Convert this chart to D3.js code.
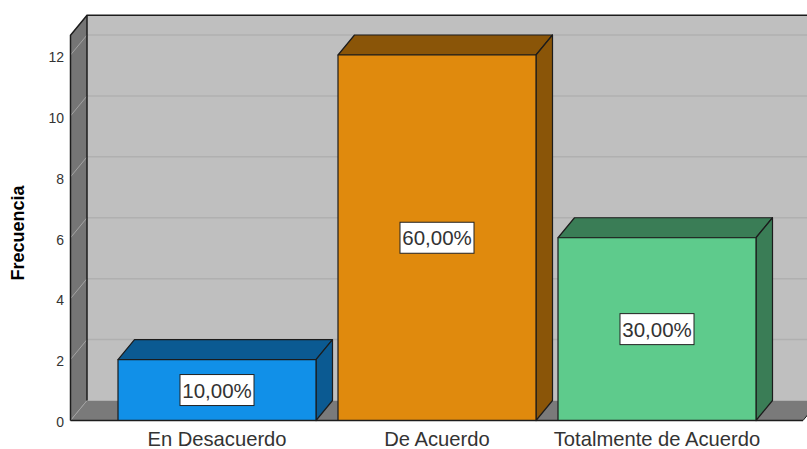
<!DOCTYPE html>
<html>
<head>
<meta charset="utf-8">
<script src="https://cdnjs.cloudflare.com/ajax/libs/d3/7.8.5/d3.min.js"></script>
<style>
    html, body { margin: 0; padding: 0; background: #fff; overflow: hidden; }
    svg { display: block; }
    text { font-family: "Liberation Sans", Arial, sans-serif; }
</style>
</head>
<body>
<div id="chart"></div>
<script>
const categories = ["En Desacuerdo", "De Acuerdo", "Totalmente de Acuerdo"];
const frequencies = [2, 12, 6];
const percentLabels = ["10,00%", "60,00%", "30,00%"];
const yTicks = [0, 2, 4, 6, 8, 10, 12];
const yMaxValue = 12.65;
const frontColors = ["#1190e8", "#e08a0d", "#5ecb8c"];
const darkColors = ["#0b5a92", "#8a5508", "#3a7d56"];

const width = 807, height = 449;
// depth of the fake 3d box
const dx = 16.5, dy = -20;
const plotLeft = 70.5, plotRight = 803, plotBottom = 420.5;

const svg = d3.select("#chart").append("svg")
    .attr("width", width)
    .attr("height", height);

const x = d3.scaleBand()
    .domain(categories)
    .range([107, 767])
    .paddingInner(0.1)
    .paddingOuter(0.05);

const y = d3.scaleLinear()
    .domain([0, 12])
    .range([plotBottom, 55]);

const plotTop = y(yMaxValue);
const outline = "#1c1c1c";

function pts(list) {
    return list.map(p => p.join(",")).join(" ");
}

// back wall
svg.append("rect")
    .attr("x", plotLeft + dx)
    .attr("y", plotTop + dy)
    .attr("width", width - plotLeft - dx + 2)
    .attr("height", plotBottom - plotTop)
    .attr("fill", "#bfbfbf");

// side wall
svg.append("polygon")
    .attr("points", pts([[plotLeft, plotTop], [plotLeft + dx, plotTop + dy], [plotLeft + dx, plotBottom + dy], [plotLeft, plotBottom]]))
    .attr("fill", "#757575");

// floor
svg.append("polygon")
    .attr("points", pts([[plotLeft, plotBottom], [plotLeft + dx, plotBottom + dy], [plotRight + dx, plotBottom + dy], [plotRight, plotBottom]]))
    .attr("fill", "#7a7a7a");

// gridlines on back wall and side wall
yTicks.filter(d => d > 0).forEach(d => {
    svg.append("line")
        .attr("x1", plotLeft + dx).attr("x2", width)
        .attr("y1", y(d) + dy).attr("y2", y(d) + dy)
        .attr("stroke", "#b0b0b0")
        .attr("stroke-width", 1.5);
    svg.append("line")
        .attr("x1", plotLeft).attr("x2", plotLeft + dx)
        .attr("y1", y(d)).attr("y2", y(d) + dy)
        .attr("stroke", "#a3a3a3")
        .attr("stroke-width", 1);
});
svg.append("line")
    .attr("x1", plotLeft).attr("x2", plotLeft + dx)
    .attr("y1", plotBottom).attr("y2", plotBottom + dy)
    .attr("stroke", "#a3a3a3");
svg.append("line")
    .attr("x1", plotLeft + dx).attr("x2", width)
    .attr("y1", plotBottom + dy).attr("y2", plotBottom + dy)
    .attr("stroke", "#b0b0b0");

// wall outlines
svg.append("polyline")
    .attr("points", pts([[plotLeft, plotBottom], [plotLeft, plotTop], [plotLeft + dx, plotTop + dy], [width, plotTop + dy]]))
    .attr("fill", "none")
    .attr("stroke", outline)
    .attr("stroke-width", 1.5);
svg.append("line")
    .attr("x1", plotLeft + dx).attr("x2", plotLeft + dx)
    .attr("y1", plotTop + dy).attr("y2", plotBottom + dy)
    .attr("stroke", outline)
    .attr("stroke-width", 1.5);

// bars
categories.forEach((c, i) => {
    let x0 = x(c), x1 = x(c) + x.bandwidth(), yT = y(frequencies[i]);
    let g = svg.append("g")
        .attr("stroke", outline)
        .attr("stroke-width", 1.2)
        .attr("stroke-linejoin", "round");
    g.append("polygon")
        .attr("points", pts([[x0, yT], [x0 + dx, yT + dy], [x1 + dx, yT + dy], [x1, yT]]))
        .attr("fill", darkColors[i]);
    g.append("polygon")
        .attr("points", pts([[x1, yT], [x1 + dx, yT + dy], [x1 + dx, plotBottom + dy], [x1, plotBottom]]))
        .attr("fill", darkColors[i]);
    g.append("rect")
        .attr("x", x0)
        .attr("y", yT)
        .attr("width", x.bandwidth())
        .attr("height", plotBottom - yT)
        .attr("fill", frontColors[i]);
});

// baseline
svg.append("line")
    .attr("x1", plotLeft).attr("x2", plotRight)
    .attr("y1", plotBottom).attr("y2", plotBottom)
    .attr("stroke", outline)
    .attr("stroke-width", 1.5);
svg.append("line")
    .attr("x1", plotRight).attr("x2", plotRight + dx)
    .attr("y1", plotBottom).attr("y2", plotBottom + dy)
    .attr("stroke", outline)
    .attr("stroke-width", 1);

// value labels
categories.forEach((c, i) => {
    let cx = x(c) + x.bandwidth() / 2, cy = y(frequencies[i] / 2);
    svg.append("rect")
        .attr("x", cx - 37)
        .attr("y", cy - 15.5)
        .attr("width", 74)
        .attr("height", 31)
        .attr("fill", "#fff")
        .attr("stroke", "#222")
        .attr("stroke-width", 1);
    svg.append("text")
        .attr("x", cx)
        .attr("y", cy + 7.5)
        .attr("text-anchor", "middle")
        .attr("font-size", 20.5)
        .attr("fill", "#333")
        .text(percentLabels[i]);
});

// axes
const yAxis = d3.axisLeft(y).tickValues(yTicks).tickSize(0).tickPadding(0);
const yG = svg.append("g")
    .attr("transform", "translate(64,0)")
    .call(yAxis);
yG.select(".domain").remove();
yG.selectAll("text")
    .attr("font-size", 14)
    .attr("fill", "#333")
    .attr("dy", "0.45em")
    .style("font-family", "'Liberation Sans', Arial, sans-serif");

const xAxis = d3.axisBottom(x).tickSize(0).tickPadding(0);
const xG = svg.append("g")
    .attr("transform", "translate(0," + (plotBottom + 11.5) + ")")
    .call(xAxis);
xG.select(".domain").remove();
xG.selectAll("text")
    .attr("font-size", 20.2)
    .attr("fill", "#333")
    .style("font-family", "'Liberation Sans', Arial, sans-serif");

svg.append("g")
    .attr("transform", "translate(24,233)")
    .append("text")
    .attr("text-anchor", "middle")
    .attr("transform", "rotate(-90)")
    .attr("font-size", 18)
    .attr("font-weight", "bold")
    .attr("fill", "#000")
    .text("Frecuencia");
</script>
</body>
</html>
